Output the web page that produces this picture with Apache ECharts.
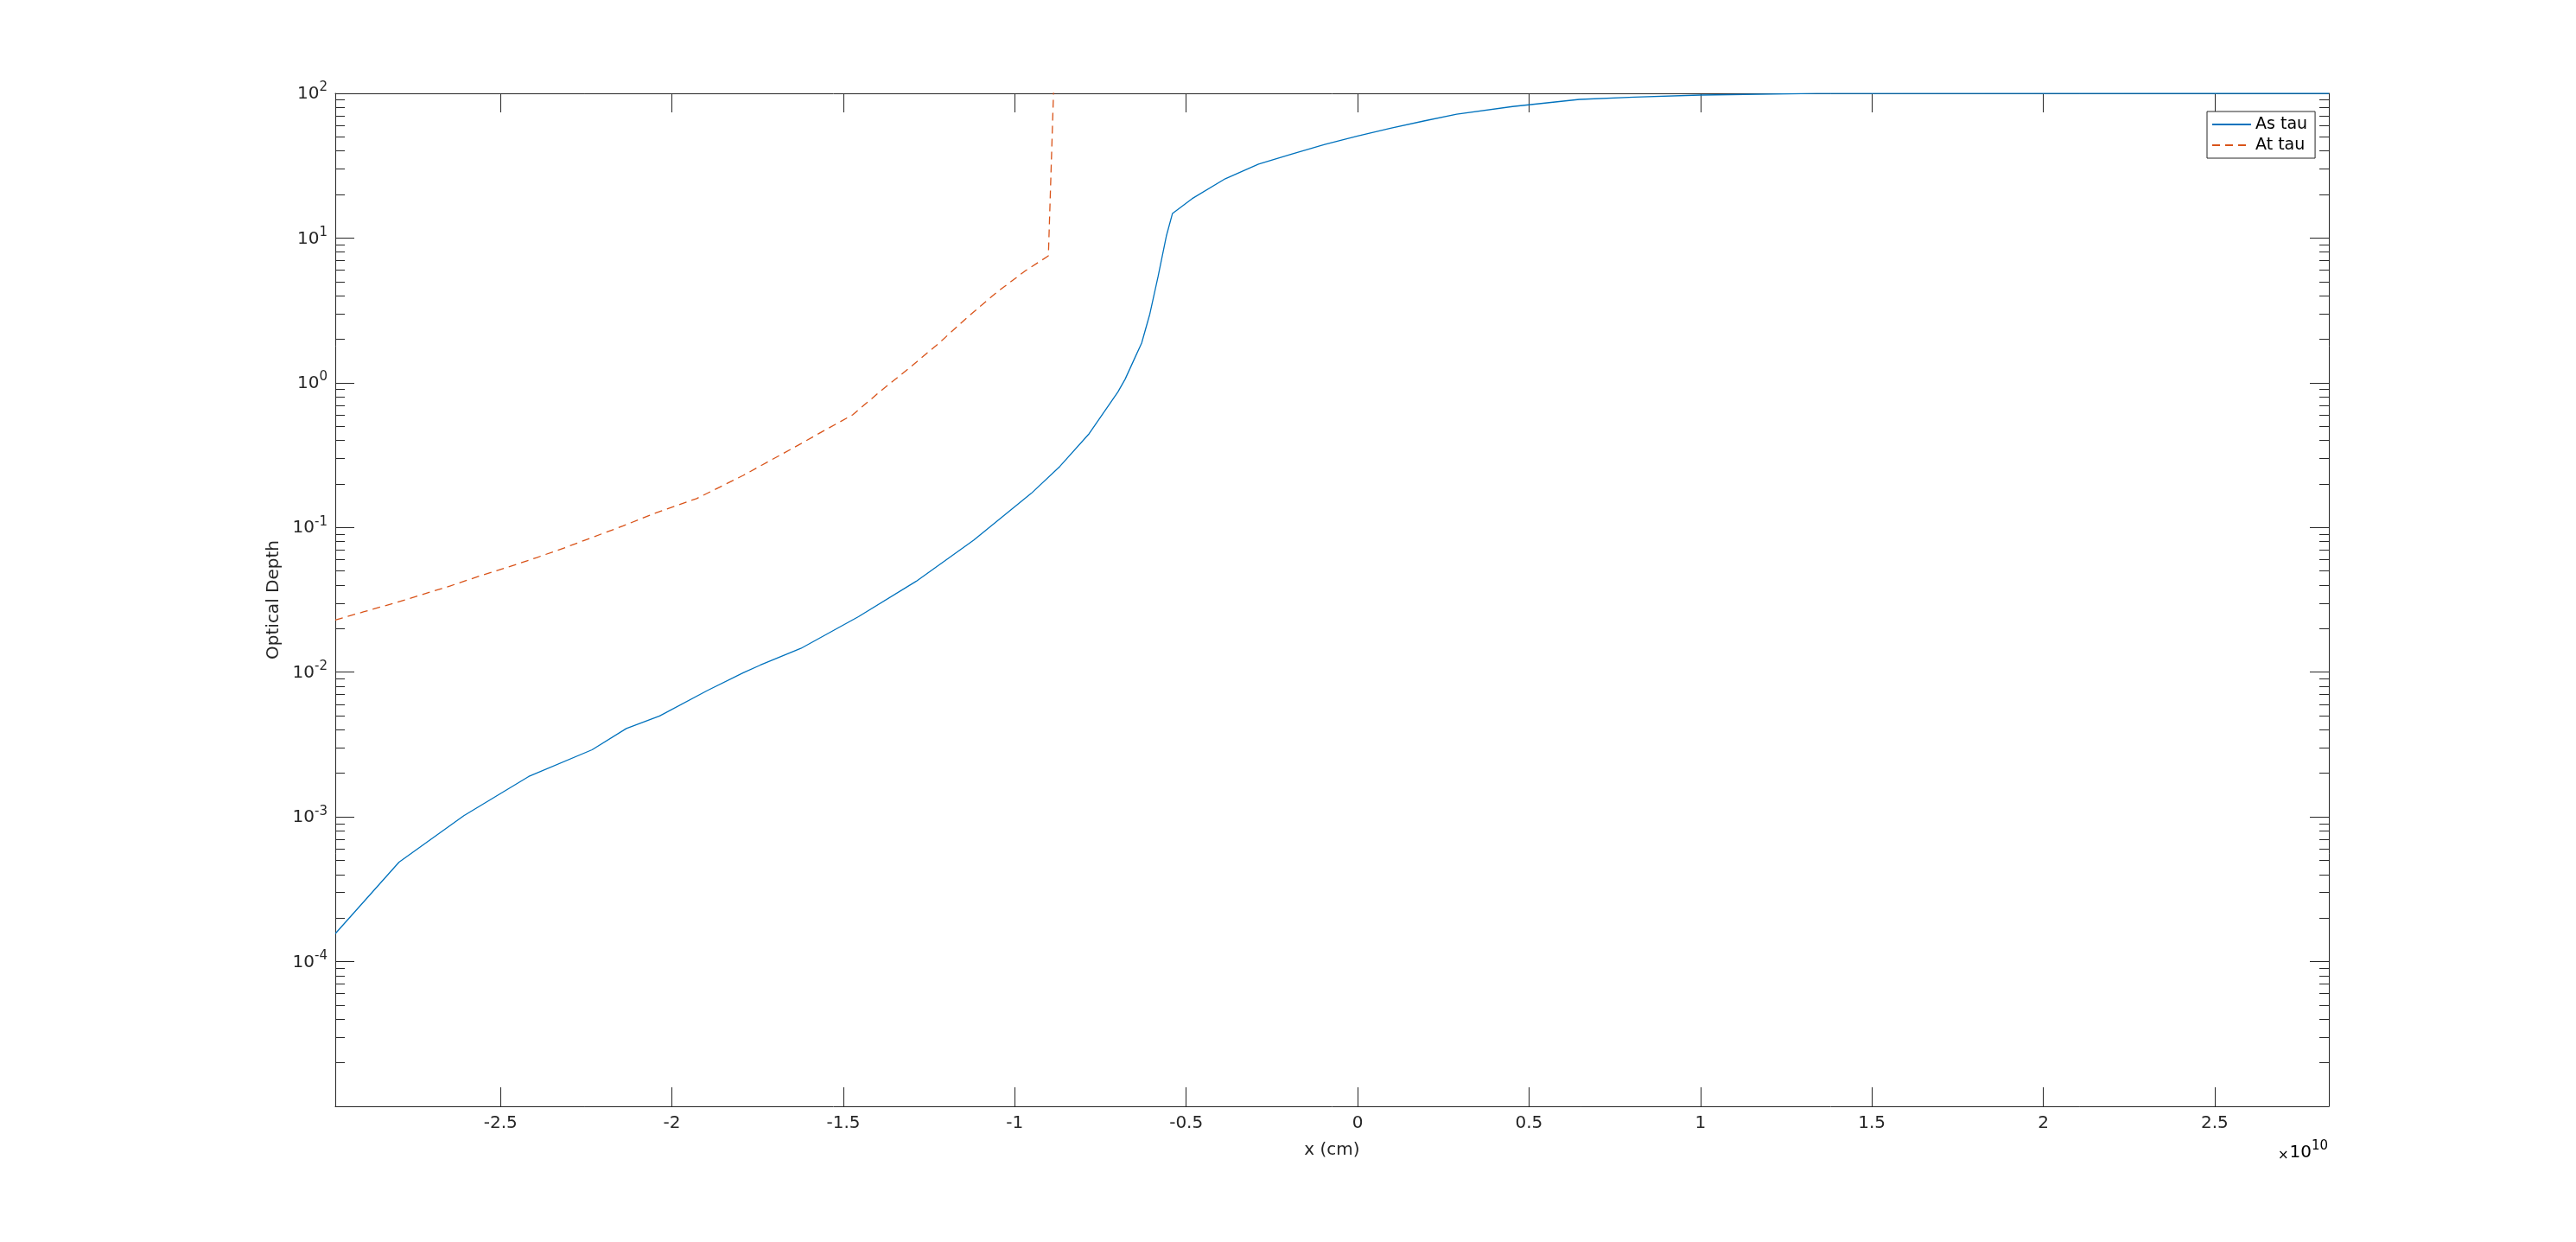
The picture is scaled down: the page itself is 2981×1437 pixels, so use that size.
<!DOCTYPE html>
<html>
<head>
<meta charset="utf-8">
<script src="https://cdn.jsdelivr.net/npm/echarts@6/dist/echarts.min.js"></script>
<style>
html,body{margin:0;padding:0;background:#fff;}
#chart{width:2981px;height:1437px;}
</style>
</head>
<body>
<div id="chart"></div>
<script>
// x positions in units of 1e10 cm
const xAs = [-2.982, -2.796, -2.607, -2.418, -2.233, -2.133, -2.036, -1.897, -1.792, -1.742,
  -1.624, -1.456, -1.288, -1.120, -0.952, -0.868, -0.783, -0.699, -0.678, -0.649,
  -0.630, -0.606, -0.582, -0.558, -0.540, -0.483, -0.386, -0.289, -0.193, -0.096,
  0.0, 0.096, 0.193, 0.289, 0.452, 0.647, 0.807, 1.0, 1.338, 2.833];
const tauAs = [1.56e-4, 4.87e-4, 1.02e-3, 1.90e-3, 2.91e-3, 4.08e-3, 4.98e-3, 7.46e-3, 9.9e-3, 0.0112,
  0.0146, 0.0242, 0.0424, 0.0817, 0.172, 0.265, 0.445, 0.865, 1.06, 1.50,
  1.88, 2.99, 5.42, 10.3, 14.8, 18.7, 25.7, 32.4, 38.0, 44.3,
  50.7, 57.4, 64.4, 71.7, 81.1, 90.8, 94.2, 97.3, 99.8, 100];

const xAt = [-2.982, -2.898, -2.814, -2.730, -2.646, -2.562, -2.478, -2.394, -2.310, -2.226,
  -2.142, -2.058, -1.928, -1.792, -1.624, -1.557, -1.473, -1.389, -1.305, -1.221,
  -1.137, -1.053, -0.969, -0.902, -0.8865];
const tauAt = [0.0229, 0.0262, 0.0298, 0.0343, 0.0395, 0.0461, 0.0532, 0.0620, 0.0728, 0.0865,
  0.1026, 0.1233, 0.1585, 0.229, 0.379, 0.466, 0.600, 0.886, 1.28, 1.88,
  2.85, 4.21, 5.94, 7.53, 110];

const xTicks = [-2.5, -2, -1.5, -1, -0.5, 0, 0.5, 1, 1.5, 2, 2.5];
const xMin = -2.982, xMax = 2.833;
const yMin = 1e-5, yMax = 100;

// minor tick positions (log10 space) for the log axis
const minorTicks = [];
for (let e = -5; e < 2; e++) {
  for (let k = 2; k <= 9; k++) minorTicks.push(Math.log10(k) + e);
}

const TXT = '#262626';
const FONT = 'DejaVu Sans';

const chart = echarts.init(document.getElementById('chart'), null, {renderer: 'canvas'});

const supRich = {
  b: {fontSize: 20, fontFamily: FONT, color: TXT, lineHeight: 22, padding: [7, 0, 0, 0], verticalAlign: 'bottom'},
  s: {fontSize: 15, fontFamily: FONT, color: TXT, lineHeight: 15, padding: [0, 0, 10, 0], verticalAlign: 'bottom'}
};

chart.setOption({
  animation: false,
  backgroundColor: '#fff',
  textStyle: {fontFamily: FONT},
  grid: {left: 388, right: 286, top: 108, bottom: 157, containLabel: false},
  legend: {
    orient: 'vertical',
    left: 2554, top: 129,
    padding: [5, 9, 5, 5],
    itemGap: 4,
    itemWidth: 45, itemHeight: 14,
    borderColor: TXT, borderWidth: 1,
    backgroundColor: '#fff',
    itemStyle: {opacity: 0, borderWidth: 0},
    textStyle: {fontSize: 19, fontFamily: FONT, color: '#000', lineHeight: 20},
    data: ['As tau', 'At tau']
  },
  xAxis: [
    {
      type: 'value', position: 'bottom', min: xMin, max: xMax,
      axisLine: {show: true, onZero: false, lineStyle: {color: TXT, width: 1}},
      axisTick: {show: true, inside: true, length: 22, lineStyle: {color: TXT}, customValues: xTicks},
      axisLabel: {show: true, margin: 10, fontSize: 20, fontFamily: FONT, color: TXT, customValues: xTicks,
        formatter: v => String(v)},
      splitLine: {show: false},
      name: 'x (cm)', nameLocation: 'middle', nameGap: 41,
      nameTextStyle: {fontSize: 20, fontFamily: FONT, color: TXT}
    },
    {
      type: 'value', position: 'top', min: xMin, max: xMax,
      axisLine: {show: true, onZero: false, lineStyle: {color: TXT, width: 1}},
      axisTick: {show: true, inside: true, length: 22, lineStyle: {color: TXT}, customValues: xTicks},
      axisLabel: {show: false},
      splitLine: {show: false}
    }
  ],
  yAxis: [
    {
      type: 'log', logBase: 10, position: 'left', min: yMin, max: yMax, splitNumber: 7,
      axisLine: {show: true, onZero: false, lineStyle: {color: TXT, width: 1}},
      axisTick: {show: true, inside: true, length: 22, lineStyle: {color: TXT}},
      axisLabel: {show: true, margin: 9, rich: supRich,
        formatter: function (v) {
          const e = Math.round(Math.log10(v));
          if (e <= -5) return '';
          return '{b|10}{s|' + e + '}';
        }},
      splitLine: {show: false},
      minorTick: {show: false},
      name: 'Optical Depth', nameLocation: 'middle', nameGap: 61, nameRotate: 90,
      nameTextStyle: {fontSize: 20, fontFamily: FONT, color: TXT}
    },
    {
      type: 'log', logBase: 10, position: 'right', min: yMin, max: yMax, splitNumber: 7,
      axisLine: {show: true, onZero: false, lineStyle: {color: TXT, width: 1}},
      axisTick: {show: true, inside: true, length: 22, lineStyle: {color: TXT}},
      axisLabel: {show: false},
      splitLine: {show: false}
    },
    {
      type: 'value', position: 'left', min: -5, max: 2,
      axisLine: {show: false, onZero: false},
      axisTick: {show: true, inside: true, length: 11, lineStyle: {color: TXT}, customValues: minorTicks},
      axisLabel: {show: false},
      splitLine: {show: false}
    },
    {
      type: 'value', position: 'right', min: -5, max: 2,
      axisLine: {show: false, onZero: false},
      axisTick: {show: true, inside: true, length: 11, lineStyle: {color: TXT}, customValues: minorTicks},
      axisLabel: {show: false},
      splitLine: {show: false}
    }
  ],
  graphic: [
    {
      type: 'text', right: 287, top: 1319,
      style: {
        text: '{x|×}{b|10}{s|10}',
        rich: {
          x: {fontSize: 15, fontFamily: FONT, color: '#555', lineHeight: 30, verticalAlign: 'bottom', padding: [0, 1, 4, 0]},
          b: {fontSize: 20, fontFamily: FONT, color: TXT, lineHeight: 30},
          s: {fontSize: 15, fontFamily: FONT, color: TXT, verticalAlign: 'top', lineHeight: 15}
        }
      }
    }
  ],
  series: [
    {
      name: 'As tau', type: 'line', xAxisIndex: 0, yAxisIndex: 0,
      showSymbol: false, symbol: 'none', clip: true,
      lineStyle: {color: '#0072BD', width: 1.3},
      itemStyle: {color: '#0072BD'},
      data: xAs.map((x, i) => [x, tauAs[i]])
    },
    {
      name: 'At tau', type: 'line', xAxisIndex: 0, yAxisIndex: 0,
      showSymbol: false, symbol: 'none', clip: true,
      lineStyle: {color: '#D95319', width: 1.3, type: [9, 6]},
      itemStyle: {color: '#D95319'},
      data: xAt.map((x, i) => [x, tauAt[i]])
    }
  ]
});
</script>
</body>
</html>
